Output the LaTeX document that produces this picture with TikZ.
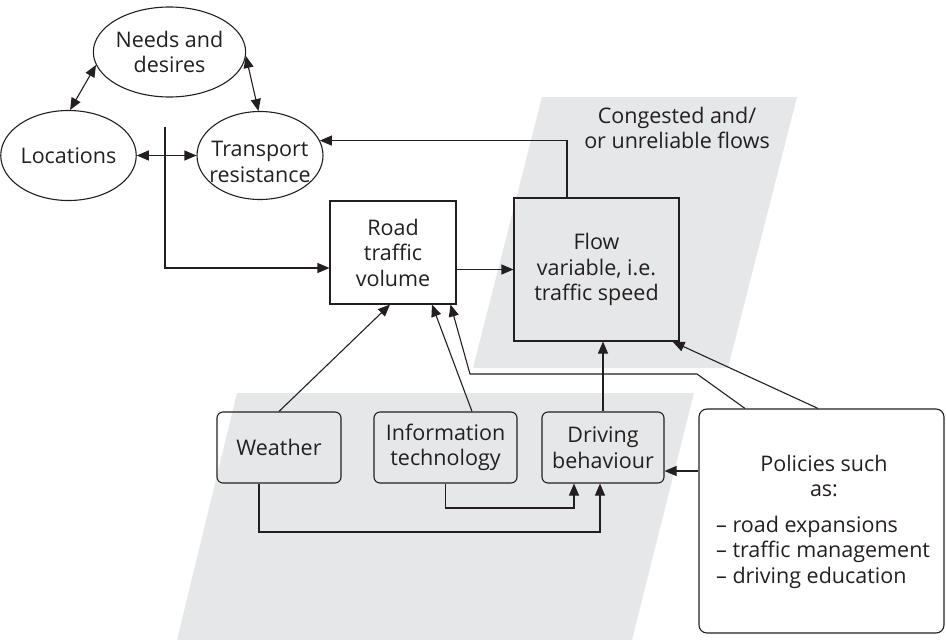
\documentclass[tikz,border=0pt]{standalone}
\usepackage{fontspec}
\setmainfont{Open Sans}
\usetikzlibrary{arrows.meta,calc,shapes.geometric}
\definecolor{ink}{RGB}{35,31,32}
\definecolor{bg}{RGB}{230,231,232}
\begin{document}
\begin{tikzpicture}[x=1pt,y=-1pt,
  every node/.style={font=\fontsize{21.5}{25.5}\selectfont, text=ink, inner sep=0pt},
  ell/.style={draw=ink, line width=1.1pt, ellipse},
  sq/.style={draw=ink, line width=1.1pt, rectangle},
  rbox/.style={draw=ink, line width=1.1pt, rectangle, rounded corners=6pt},
  conn/.style={draw=ink, line width=1.1pt},
  arr/.style={conn, -{Triangle[length=12pt,width=10pt]}},
  darr/.style={conn, {Triangle[length=12pt,width=10pt]}-{Triangle[length=12pt,width=10pt]}},
]
\useasboundingbox (0,0) rectangle (946,640);
\fill[bg] (542,97) -- (797,97) -- (728,368) -- (473,368) -- cycle;
\fill[bg] (237,393) -- (694,393) -- (632,640) -- (177,640) -- cycle;

\node[ell, minimum width=127pt, minimum height=90pt, align=center] (nd) at (169.5,52) {Needs and\\desires};
\node[ell, minimum width=133pt, minimum height=90pt] (loc) at (68.5,155.5) {Locations};
\node[ell, minimum width=126pt, minimum height=88pt] (tr) at (260,155.5) {};
\node[align=center] (trt) at (260,162) {Transport\\resistance};

\node[sq, minimum width=126pt, minimum height=103pt, align=center] (road) at (393,252.5) {Road\\traffic\\volume};
\node[sq, minimum width=165pt, minimum height=143pt, align=center] (flow) at (596.5,269.5) {Flow\\variable, i.e.\\traffic speed};
\node[align=center] (cong) at (677,128) {Congested and/\\or unreliable flows};

\node[rbox, minimum width=124pt, minimum height=71pt] (wea) at (279,447.5) {Weather};
\node[rbox, minimum width=143pt, minimum height=71pt, align=center] (it) at (445.5,447.5) {Information\\technology};
\node[rbox, minimum width=122pt, minimum height=71pt, align=center] (drv) at (603,447.5) {Driving\\behaviour};
\node[rbox, rounded corners=8pt, minimum width=245pt, minimum height=224pt] (pol) at (821.5,521) {};
\node[align=center] (polt) at (824,476) {Policies such\\as:};
\node[align=left, anchor=west] (poll) at (716,552) {– road expansions\\– traffic management\\– driving education};

\coordinate (vtop) at (165,127);
\coordinate (b1) at (697,374);
\coordinate (b2) at (470,374);
\coordinate (ya) at (0,471);
\coordinate (yb) at (0,508);
\coordinate (yc) at (0,532);

\draw[darr] (nd.190) -- (loc.88);
\draw[darr] (nd.-3) -- (tr.92);
\draw[darr] (loc.east) -- (tr.west);
\draw[arr] (vtop) |- ([yshift=-15.5pt]road.west);
\draw[arr] (road.east |- flow.west) -- (flow.west);
\draw[arr] ([xshift=-29.5pt]flow.north) |- (tr.14);
\draw[arr] (wea.north) -- ([xshift=-3pt]road.south);
\draw[arr] ([xshift=26.5pt]it.north) -- ([xshift=39pt]road.south);
\draw[arr] ([xshift=-76.5pt]pol.north) -- (b1) -- (b2) -- ([xshift=-6pt]road.south east);
\draw[arr] ([xshift=-3.5pt]pol.north) -- ([xshift=-7pt]flow.south east);
\draw[arr] (drv.north) -- (drv.north |- flow.south);
\draw[arr] (pol.west |- ya) -- (drv.east |- ya);
\draw[arr] (it.south) -- (it.south |- yb) -| ([xshift=-29pt]drv.south);
\draw[arr] ([xshift=-20pt]wea.south) -- ([xshift=-20pt]wea.south |- yc) -| ([xshift=-3pt]drv.south);
\end{tikzpicture}
\end{document}
